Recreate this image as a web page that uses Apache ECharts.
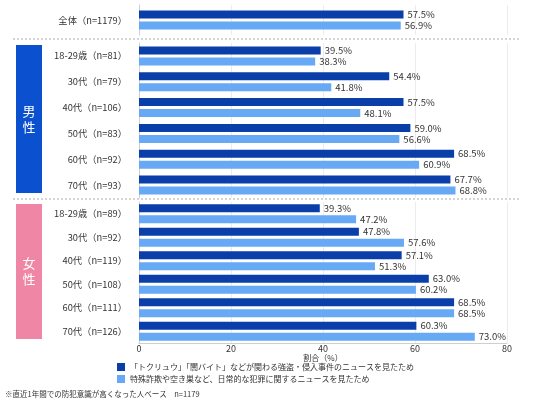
<!DOCTYPE html>
<html>
<head>
<meta charset="utf-8">
<script src="https://cdn.jsdelivr.net/npm/echarts@6/dist/echarts.min.js"></script>
<style>
  html, body { margin: 0; padding: 0; background: #fff; }
  #chart { width: 536px; height: 402px; }
</style>
</head>
<body>
<div id="chart"></div>
<script>
// カテゴリ
var overallCats = ['全体（n=1179）'];
var maleCats = ['18-29歳（n=81）', '30代（n=79）', '40代（n=106）', '50代（n=83）', '60代（n=92）', '70代（n=93）'];
var femaleCats = ['18-29歳（n=89）', '30代（n=92）', '40代（n=119）', '50代（n=108）', '60代（n=111）', '70代（n=126）'];

// 系列名
var seriesNames = [
  '「トクリュウ」「闇バイト」などが関わる強盗・侵入事件のニュースを見たため',
  '特殊詐欺や空き巣など、日常的な犯罪に関するニュースを見たため'
];

// 値（%）
var overallA = [57.5];
var overallB = [56.9];
var maleA = [39.5, 54.4, 57.5, 59.0, 68.5, 67.7];
var maleB = [38.3, 41.8, 48.1, 56.6, 60.9, 68.8];
var femaleA = [39.3, 47.8, 57.1, 63.0, 68.5, 60.3];
var femaleB = [47.2, 57.6, 51.3, 60.2, 68.5, 73.0];

var xTicks = { min: 0, max: 80, interval: 20 };

var FONT = '"Noto Sans CJK JP", "Noto Sans", sans-serif';
var DARK = '#0a3fa9';
var LIGHT = '#68a9f5';

var chart = echarts.init(document.getElementById('chart'));

// 全体・男性・女性の3ブロックに分けて描く
var gridDefs = [
  { top: 5, height: 30, cats: overallCats, a: overallA, b: overallB },
  { top: 43, height: 155, cats: maleCats, a: maleA, b: maleB },
  { top: 202, height: 141, cats: femaleCats, a: femaleA, b: femaleB }
];

var grids = [], xAxes = [], yAxes = [], series = [];

gridDefs.forEach(function (g, i) {
  var last = i === gridDefs.length - 1;
  grids.push({ left: 139, right: 29, top: g.top, height: g.height });
  xAxes.push({
    type: 'value',
    gridIndex: i,
    min: xTicks.min,
    max: xTicks.max,
    interval: xTicks.interval,
    axisLine: { show: last, lineStyle: { color: '#cfcfcf' } },
    axisTick: { show: false },
    axisLabel: { show: last, color: '#333', fontSize: 9, fontFamily: FONT, margin: 1 },
    splitLine: { show: true, lineStyle: { color: '#ececec' } },
    name: last ? '割合（%）' : '',
    nameLocation: 'middle',
    nameGap: 9,
    nameTextStyle: { color: '#333', fontSize: 8, fontFamily: FONT }
  });
  yAxes.push({
    type: 'category',
    gridIndex: i,
    data: g.cats,
    inverse: true,
    axisLine: { show: true, lineStyle: { color: '#cfcfcf' } },
    axisTick: { show: false },
    axisLabel: { color: '#333', fontSize: 9.3, fontFamily: FONT, margin: 12 }
  });
  var label = {
    show: true,
    position: 'right',
    distance: 4,
    color: '#333',
    fontSize: 9.5,
    fontFamily: FONT,
    formatter: function (p) { return p.value.toFixed(1) + '%'; }
  };
  series.push({
    name: seriesNames[0], type: 'bar', xAxisIndex: i, yAxisIndex: i,
    data: g.a, barWidth: 8, barGap: '38%', itemStyle: { color: DARK }, label: label
  });
  series.push({
    name: seriesNames[1], type: 'bar', xAxisIndex: i, yAxisIndex: i,
    data: g.b, barWidth: 8, barGap: '38%', itemStyle: { color: LIGHT }, label: label
  });
});

var option = {
  animation: false,
  textStyle: { fontFamily: FONT },
  grid: grids,
  xAxis: xAxes,
  yAxis: yAxes,
  series: series,
  legend: {
    data: seriesNames,
    orient: 'vertical',
    left: 112,
    top: 358,
    itemWidth: 8,
    itemHeight: 8,
    itemGap: 4,
    icon: 'rect',
    textStyle: { color: '#333', fontSize: 8, fontFamily: FONT }
  },
  graphic: [
    { type: 'line', shape: { x1: 13, y1: 39, x2: 521, y2: 39 }, style: { stroke: '#aaa', lineWidth: 1, lineDash: [2, 2] } },
    { type: 'line', shape: { x1: 13, y1: 199, x2: 521, y2: 199 }, style: { stroke: '#aaa', lineWidth: 1, lineDash: [2, 2] } },
    { type: 'rect', shape: { x: 16, y: 45, width: 26, height: 148 }, style: { fill: '#0b50cf' } },
    { type: 'text', x: 29, y: 119, style: { text: '男\n性', fill: '#fff', fontSize: 13, fontFamily: FONT, align: 'center', verticalAlign: 'middle', lineHeight: 16 } },
    { type: 'rect', shape: { x: 16, y: 204, width: 26, height: 135 }, style: { fill: '#ef86a6' } },
    { type: 'text', x: 29, y: 271, style: { text: '女\n性', fill: '#fff', fontSize: 13, fontFamily: FONT, align: 'center', verticalAlign: 'middle', lineHeight: 16 } },
    { type: 'text', x: 5, y: 394, style: { text: '※直近1年間での防犯意識が高くなった人ベース　n=1179', fill: '#333', fontSize: 7.5, fontFamily: FONT, verticalAlign: 'middle' } }
  ]
};

chart.setOption(option);
</script>
</body>
</html>
